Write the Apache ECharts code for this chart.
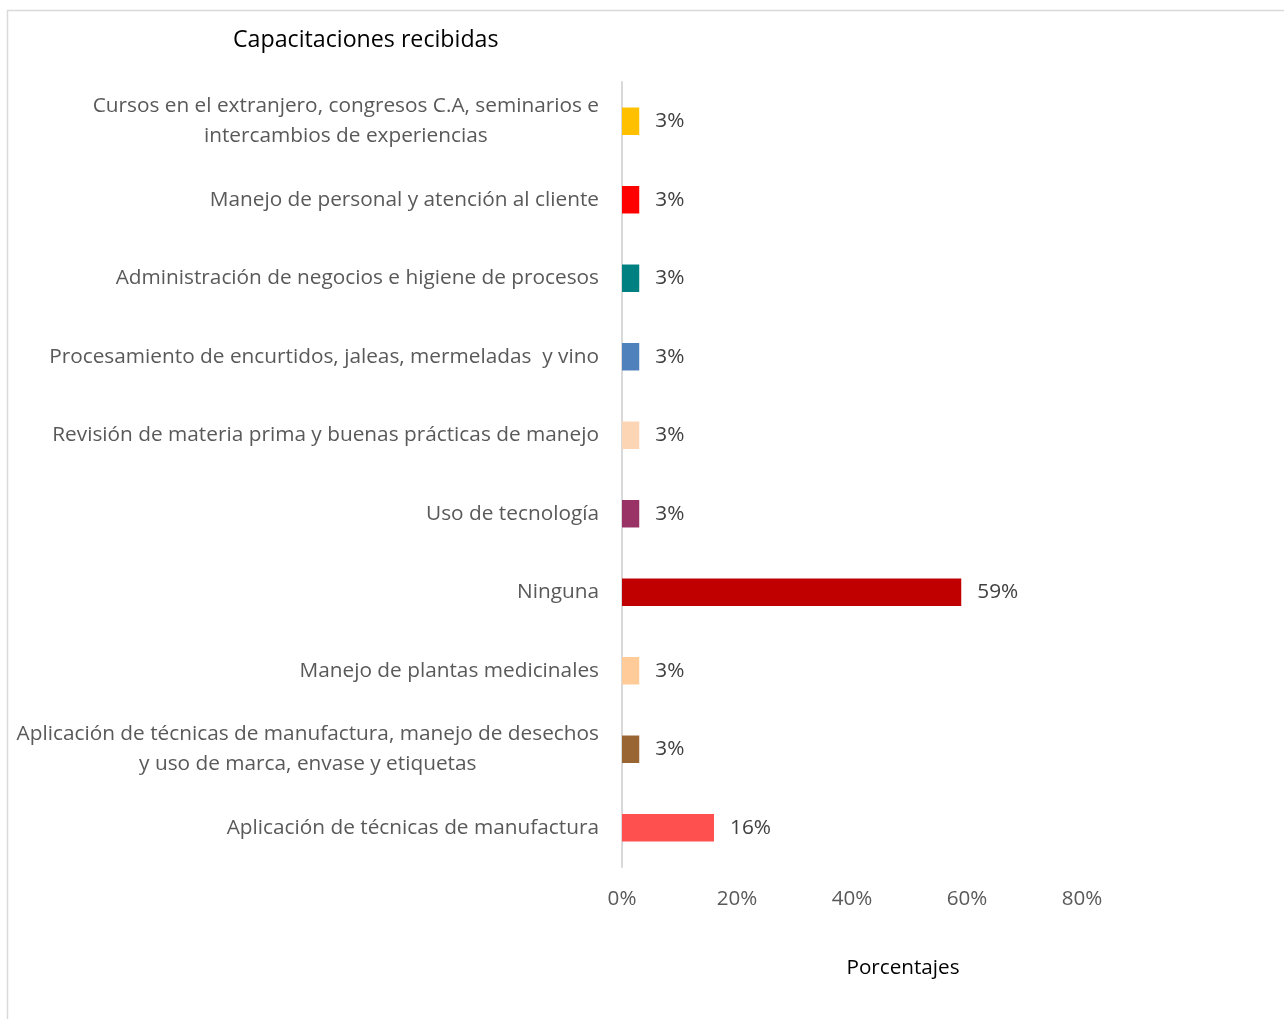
<!DOCTYPE html>
<html>
<head>
<meta charset="utf-8">
<title>Capacitaciones recibidas</title>
<script src="https://cdn.jsdelivr.net/npm/echarts@6/dist/echarts.min.js"></script>
<style>
  html, body { margin: 0; padding: 0; background: #ffffff; }
  #chart { width: 1284px; height: 1019px; }
</style>
</head>
<body>
<div id="chart"></div>
<script>
// Training topics, listed top to bottom
const categories = [
  'Cursos en el extranjero, congresos C.A, seminarios e\nintercambios de experiencias',
  'Manejo de personal y atención al cliente',
  'Administración de negocios e higiene de procesos',
  'Procesamiento de encurtidos, jaleas, mermeladas  y vino',
  'Revisión de materia prima y buenas prácticas de manejo',
  'Uso de tecnología',
  'Ninguna',
  'Manejo de plantas medicinales',
  'Aplicación de técnicas de manufactura, manejo de desechos\ny uso de marca, envase y etiquetas',
  'Aplicación de técnicas de manufactura'
];

// Share of respondents, in percent
const values = [3, 3, 3, 3, 3, 3, 59, 3, 3, 16];

const barColors = [
  '#FFC000', '#FF0000', '#008080', '#4F81BD', '#FCD5B5',
  '#993366', '#C00000', '#FFCC99', '#996633', '#FF5050'
];

const xTicks = [0, 20, 40, 60, 80];

const FONT = '"Open Sans", "Noto Sans", sans-serif';
const FS = 20.8;

const chart = echarts.init(document.getElementById('chart'), null, { renderer: 'canvas' });

chart.setOption({
  backgroundColor: '#ffffff',
  animation: false,
  textStyle: { fontFamily: FONT },
  title: {
    text: 'Capacitaciones recibidas',
    left: 233,
    top: 29,
    padding: 0,
    textStyle: { fontFamily: FONT, fontSize: 23.2, fontWeight: 'normal', color: '#000000' }
  },
  grid: { left: 622, right: 202, top: 82, bottom: 152, containLabel: false },
  xAxis: {
    type: 'value',
    min: xTicks[0],
    max: xTicks[xTicks.length - 1],
    interval: 20,
    axisLine: { show: false },
    axisTick: { show: false },
    splitLine: { show: false },
    axisLabel: {
      margin: 22,
      fontSize: 20.6,
      color: '#595959',
      fontFamily: FONT,
      formatter: v => v + '%'
    }
  },
  yAxis: {
    type: 'category',
    inverse: true,
    data: categories,
    axisLine: { show: true, lineStyle: { color: '#D9D9D9', width: 2 } },
    axisTick: { show: false },
    axisLabel: {
      margin: 23,
      align: 'right',
      fontFamily: FONT,
      fontSize: FS,
      color: '#595959',
      formatter: v => v.split('\n').map(l => '{c|' + l + '}').join('\n'),
      rich: {
        c: { align: 'center', fontSize: FS, lineHeight: 30, color: '#595959', fontFamily: FONT }
      }
    }
  },
  series: [{
    type: 'bar',
    data: values.map((v, i) => ({ value: v, itemStyle: { color: barColors[i] } })),
    barWidth: '35%',
    label: {
      show: true,
      position: 'right',
      distance: 16,
      fontSize: 20.8,
      color: '#404040',
      fontFamily: FONT,
      formatter: p => p.value + '%'
    }
  }],
  graphic: [
    {
      type: 'rect',
      silent: true,
      z: -1,
      shape: { x: 7.5, y: 10.5, width: 1400, height: 1100 },
      style: { fill: null, stroke: '#D9D9D9', lineWidth: 1.5 }
    },
    {
      type: 'text',
      x: 903,
      y: 968,
      style: {
        text: 'Porcentajes',
        align: 'center',
        verticalAlign: 'middle',
        fontFamily: FONT,
        fontSize: 20.7,
        fill: '#000000'
      }
    }
  ]
});
</script>
</body>
</html>
